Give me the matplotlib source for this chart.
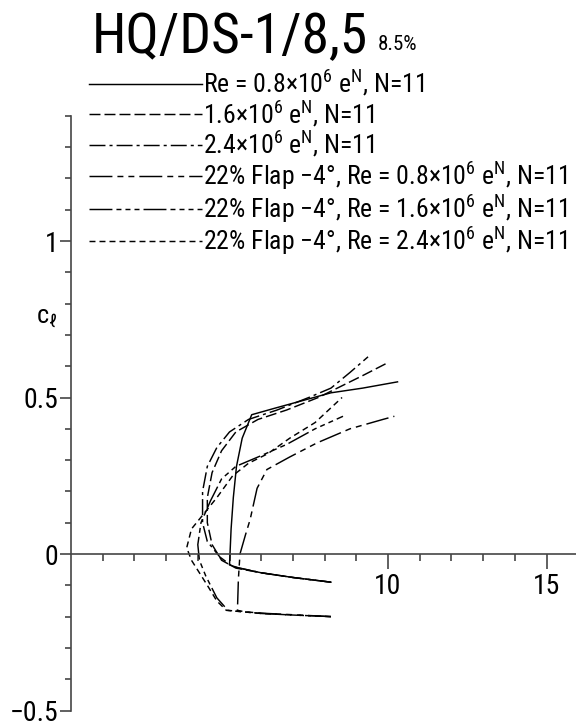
import matplotlib
matplotlib.use("Agg")
import matplotlib.pyplot as plt
from matplotlib import font_manager

# drag polars, cd x 10^3 against cl
cd_re08 = [8.2, 7.0, 6.0, 5.3, 5.0, 5.05, 5.12, 5.22, 5.4, 5.7, 6.4, 7.3, 8.2, 9.2, 10.3]
cl_re08 = [-0.09, -0.075, -0.06, -0.045, -0.035, 0.08, 0.18, 0.28, 0.37, 0.445, 0.465, 0.49, 0.515, 0.53, 0.55]

cd_re16 = [8.2, 7.0, 6.0, 5.2, 4.75, 4.45, 4.3, 4.3, 4.45, 4.75, 5.2, 5.9, 6.8, 7.8, 8.4, 9.2, 9.97]
cl_re16 = [-0.09, -0.075, -0.06, -0.045, -0.02, 0.03, 0.1, 0.18, 0.26, 0.33, 0.39, 0.43, 0.46, 0.5, 0.53, 0.57, 0.61]

cd_re24 = [8.2, 7.0, 6.0, 5.1, 4.7, 4.3, 4.15, 4.15, 4.3, 4.6, 5.0, 5.6, 6.5, 7.5, 8.2, 8.8, 9.37]
cl_re24 = [-0.09, -0.075, -0.06, -0.04, -0.01, 0.04, 0.1, 0.2, 0.28, 0.34, 0.39, 0.43, 0.46, 0.5, 0.53, 0.58, 0.63]

cd_flap08 = [8.2, 7.2, 6.2, 5.5, 5.25, 5.28, 5.33, 5.5, 5.65, 5.87, 6.18, 6.9, 7.76, 8.8, 9.84, 10.2]
cl_flap08 = [-0.20, -0.195, -0.19, -0.185, -0.18, -0.08, 0.0, 0.06, 0.11, 0.21, 0.27, 0.31, 0.355, 0.40, 0.43, 0.44]

cd_flap16 = [8.2, 7.0, 6.0, 4.95, 4.6, 4.25, 4.05, 4.0, 4.1, 4.4, 4.75, 5.2, 5.9, 6.8, 7.7, 8.58]
cl_flap16 = [-0.20, -0.195, -0.19, -0.18, -0.14, -0.07, -0.02, 0.03, 0.1, 0.17, 0.24, 0.28, 0.31, 0.35, 0.40, 0.44]

cd_flap24 = [8.2, 7.0, 6.0, 4.9, 4.6, 4.3, 3.8, 3.65, 3.8, 4.2, 4.6, 5.1, 5.6, 6.2, 6.9, 7.7, 8.55]
cl_flap24 = [-0.20, -0.195, -0.19, -0.18, -0.15, -0.10, -0.02, 0.02, 0.08, 0.13, 0.18, 0.25, 0.29, 0.32, 0.37, 0.42, 0.50]

labels = [
    "Re = 0.8×10$^{6}$ e$^{\\mathrm{N}}$, N=11",
    "1.6×10$^{6}$ e$^{\\mathrm{N}}$, N=11",
    "2.4×10$^{6}$ e$^{\\mathrm{N}}$, N=11",
    "22% Flap −4°, Re = 0.8×10$^{6}$ e$^{\\mathrm{N}}$, N=11",
    "22% Flap −4°, Re = 1.6×10$^{6}$ e$^{\\mathrm{N}}$, N=11",
    "22% Flap −4°, Re = 2.4×10$^{6}$ e$^{\\mathrm{N}}$, N=11",
]

# narrow face if there is one
installed = {f.name for f in font_manager.fontManager.ttflist}
family = "DejaVu Sans"
for name in ["Liberation Sans Narrow", "Roboto Condensed", "DejaVu Sans Condensed"]:
    if name in installed:
        family = name
        break

plt.rcParams["font.family"] = [family, "DejaVu Sans"]
plt.rcParams["mathtext.fontset"] = "custom"
plt.rcParams["mathtext.rm"] = family
plt.rcParams["mathtext.it"] = family
plt.rcParams["lines.scale_dashes"] = False

styles = [
    "-",
    (0, (7.9, 2.9)),
    (0, (11.5, 2.9, 2.2, 2.9)),
    (0, (16.5, 3.6, 4.3, 3.6, 4.3, 3.6)),
    (0, (16.5, 2.9, 3.6, 2.9, 3.6, 2.9, 3.6, 2.9)),
    (0, (4.3, 2.9)),
]

fig = plt.figure(figsize=(5.76, 7.27), dpi=100)
ax = fig.add_axes([0, 0, 1, 1])
ax.set_xlim(-2.24, 15.93)
ax.set_ylim(-0.5527, 1.770)

series = [
    (cd_re08, cl_re08), (cd_re16, cl_re16), (cd_re24, cl_re24),
    (cd_flap08, cl_flap08), (cd_flap16, cl_flap16), (cd_flap24, cl_flap24),
]
handles = []
for (x, y), ls, lab in zip(series, styles, labels):
    h, = ax.plot(x, y, color="black", lw=1.05, linestyle=ls, label=lab)
    handles.append(h)

# axes through the origin
axis_col = "#454545"
for side in ["top", "right"]:
    ax.spines[side].set_visible(False)
ax.spines["left"].set_position(("data", 0))
ax.spines["bottom"].set_position(("data", 0))
ax.spines["left"].set_bounds(-0.5, 1.4)
ax.spines["bottom"].set_bounds(0, 15.93)
for side in ["left", "bottom"]:
    ax.spines[side].set_color(axis_col)
    ax.spines[side].set_linewidth(1.2)

ax.set_xticks([10, 15], labels=["10", "15"])
ax.set_xticks([v for v in range(1, 16) if v not in (10, 15)], minor=True)
ax.set_yticks([-0.5, 0, 0.5, 1], labels=["−0.5", "0", "0.5", "1"])
ax.set_yticks([v / 10 for v in range(-4, 15) if v not in (0, 5, 10)], minor=True)

ax.tick_params(axis="x", which="major", direction="out", length=10.5, width=1.2,
               color=axis_col, pad=3, labelsize=20)
ax.tick_params(axis="x", which="minor", direction="out", length=5, width=1.2, color=axis_col)
ax.tick_params(axis="y", which="major", direction="out", length=8, width=1.2,
               color=axis_col, pad=1, labelsize=20)
ax.tick_params(axis="y", which="minor", direction="out", length=4.3, width=1.2, color=axis_col)

ax.text(-0.76, 0.755, "c$_{ℓ}$", fontsize=19, ha="center", va="center")

fig.text(92 / 576, 1 - 53 / 727, "HQ/DS-1/8,5", fontsize=40, ha="left", va="baseline")
fig.text(378 / 576, 1 - 50 / 727, "8.5%", fontsize=15, ha="left", va="baseline")

ax.legend(handles=handles, loc="upper left", bbox_to_anchor=(89 / 576, 1 - 68 / 727),
          bbox_transform=fig.transFigure, frameon=False, fontsize=18.5,
          handlelength=4.4, handletextpad=0.04, borderpad=0, borderaxespad=0,
          labelspacing=0.02)

fig.savefig("out.png", dpi=100)
